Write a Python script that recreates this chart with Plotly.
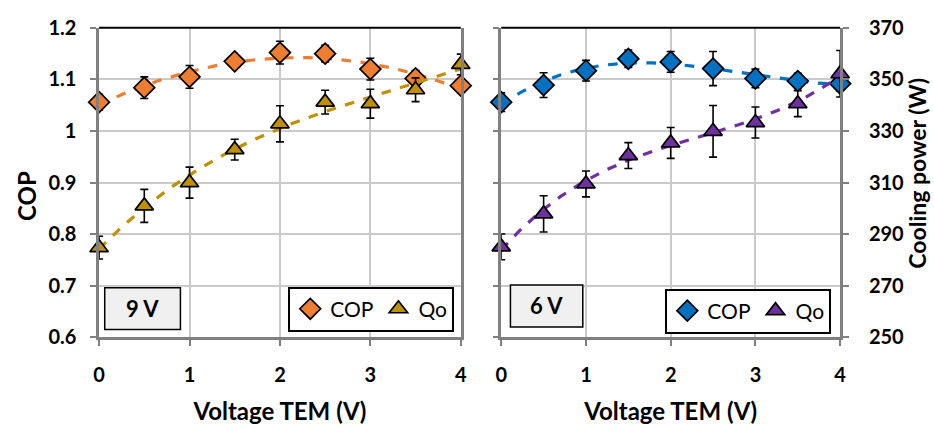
import numpy as np
import plotly.graph_objects as go

# ---------------- data ----------------
voltage = [0, 0.5, 1, 1.5, 2, 2.5, 3, 3.5, 4]

cop_9v = [1.056, 1.084, 1.105, 1.135, 1.152, 1.150, 1.120, 1.102, 1.088]
cop_9v_err = [0.015, 0.021, 0.022, 0.012, 0.022, 0.016, 0.021, 0.015, 0.006]
qo_9v = [284.8, 301.0, 310.0, 322.8, 332.8, 341.2, 340.6, 346.0, 355.8]
qo_9v_err = [4.4, 6.4, 6.0, 4.0, 7.0, 4.6, 5.6, 4.6, 4.0]

cop_6v = [1.056, 1.089, 1.117, 1.140, 1.134, 1.121, 1.102, 1.097, 1.092]
cop_6v_err = [0.018, 0.024, 0.020, 0.017, 0.020, 0.033, 0.018, 0.015, 0.015]
qo_6v = [285.1, 297.9, 309.5, 320.5, 325.4, 329.9, 333.3, 340.6, 352.2]
qo_6v_err = [5, 7, 5, 5, 6, 10, 6, 5, 9]

cop_ticks = [0.6, 0.7, 0.8, 0.9, 1.0, 1.1, 1.2]
cop_ticktext = ["0.6", "0.7", "0.8", "0.9", "1", "1.1", "1.2"]
qo_ticks = [250, 270, 290, 310, 330, 350, 370]
x_ticks = [0, 1, 2, 3, 4]

panel_labels = ["9 V", "6 V"]
legend_names = ["COP", "Qo"]
x_title = "Voltage TEM (V)"
y_left_title = "COP"
y_right_title = "Cooling power (W)"

# ---------------- styles ----------------
ORANGE = "#ED7D31"
GOLD = "#BF9000"
BLUE = "#0070C0"
PURPLE = "#7030A0"
FONT = "Lato"
W, H = 934, 433

def px_x(p):
    return p / W

def px_y(p):
    return 1 - p / H

dom_y = [px_y(343.5), px_y(15.7)]
dom_x1 = [px_x(94.3), px_x(460.7)]
dom_x2 = [px_x(501.7), px_x(845.0)]

fig = go.Figure()

def trend(x, y, deg=3):
    c = np.polyfit(x, y, deg)
    xs = np.linspace(min(x), max(x), 120)
    return xs, np.polyval(c, xs)

def add_series(x, y, err, color, symbol, xa, ya, name, legend, rank, deg=3):
    xs, ys = trend(x, y, deg)
    fig.add_trace(go.Scatter(x=xs, y=ys, mode="lines", xaxis=xa, yaxis=ya,
                             line=dict(color=color, width=3.2, dash="dash"),
                             showlegend=False, hoverinfo="skip"))
    fig.add_trace(go.Scatter(x=x, y=y, mode="markers", xaxis=xa, yaxis=ya,
                             name=name, legend=legend, legendrank=rank, cliponaxis=False,
                             marker=dict(symbol=symbol, size=16,
                                         color=color, line=dict(color="black", width=1.7)),
                             error_y=dict(type="data", array=err, visible=True,
                                          color="black", thickness=1.6, width=4)))

# left panel (9 V)
add_series(voltage, cop_9v, cop_9v_err, ORANGE, "diamond", "x", "y", legend_names[0], "legend", 1)
add_series(voltage, qo_9v, qo_9v_err, GOLD, "triangle-up", "x", "y2", legend_names[1], "legend", 2)
# right panel (6 V)
add_series(voltage, cop_6v, cop_6v_err, BLUE, "diamond", "x2", "y3", legend_names[0], "legend2", 1)
add_series(voltage, qo_6v, qo_6v_err, PURPLE, "triangle-up", "x2", "y4", legend_names[1], "legend2", 2)

tickfont = dict(family=FONT, size=20, color="black", weight="bold")
titlefont = dict(family=FONT, size=24, color="black", weight="bold")
AXIS_GRAY = "#808080"
GRID = "#CACACA"

xcommon = dict(range=[0, 4], tickvals=x_ticks, showgrid=True, gridcolor=GRID, gridwidth=2,
               showline=True, linecolor=AXIS_GRAY, linewidth=2.5, ticks="outside",
               ticklen=6, tickcolor=AXIS_GRAY, tickwidth=2, tickfont=tickfont, zeroline=False,
               ticklabelstandoff=12,
               title=dict(text=x_title, font=titlefont, standoff=18))

fig.update_layout(
    width=W, height=H, margin=dict(l=0, r=0, t=0, b=0),
    paper_bgcolor="white", plot_bgcolor="white",
    font=dict(family=FONT, color="black"),
    xaxis=dict(domain=dom_x1, anchor="y", **xcommon),
    xaxis2=dict(domain=dom_x2, anchor="y3", **xcommon),
    yaxis=dict(domain=dom_y, anchor="x", range=[0.6, 1.2], tickvals=cop_ticks, ticktext=cop_ticktext,
               showgrid=True, gridcolor=GRID, gridwidth=2, zeroline=False,
               showline=True, mirror=True, linecolor=AXIS_GRAY, linewidth=2.5,
               ticks="outside", ticklen=6, tickcolor=AXIS_GRAY, tickwidth=2, tickfont=tickfont,
               ticklabelstandoff=10),
    yaxis2=dict(overlaying="y", anchor="x", range=[250, 370], showgrid=False, showticklabels=False,
                zeroline=False, showline=False),
    yaxis3=dict(domain=dom_y, anchor="x2", range=[0.6, 1.2], tickvals=cop_ticks,
                showticklabels=False, showgrid=True, gridcolor=GRID, gridwidth=2, zeroline=False,
                showline=True, linecolor=AXIS_GRAY, linewidth=2.5,
                ticks="outside", ticklen=6, tickcolor=AXIS_GRAY, tickwidth=2),
    yaxis4=dict(overlaying="y3", anchor="x2", side="right", range=[250, 370], tickvals=qo_ticks,
                showgrid=False, zeroline=False, showline=True, linecolor=AXIS_GRAY, linewidth=2.5,
                ticks="outside", ticklen=6, tickcolor=AXIS_GRAY, tickwidth=2, tickfont=tickfont,
                ticklabelstandoff=16),
    legend=dict(orientation="h", x=px_x(370), y=px_y(313.5), xanchor="center", yanchor="middle",
                bgcolor="white", bordercolor="black", borderwidth=2, traceorder="normal",
                font=dict(family=FONT, size=21, color="black"), itemwidth=30),
    legend2=dict(orientation="h", x=px_x(752), y=px_y(315.5), xanchor="center", yanchor="middle",
                 bgcolor="white", bordercolor="black", borderwidth=2, traceorder="normal",
                 font=dict(family=FONT, size=21, color="black"), itemwidth=30),
)

# y-axis titles
fig.add_annotation(xref="paper", yref="paper", x=px_x(21), y=px_y(194), text=y_left_title,
                   textangle=-90, showarrow=False, xanchor="center", yanchor="middle",
                   font=titlefont)
fig.add_annotation(xref="paper", yref="paper", x=px_x(922), y=px_y(170), text=y_right_title,
                   textangle=-90, showarrow=False, xanchor="center", yanchor="middle",
                   font=dict(family=FONT, size=23, color="black", weight="bold"))

# top black frame lines
for xa, ya in [("x", "y"), ("x2", "y3")]:
    fig.add_shape(type="line", xref=xa + " domain", yref=ya + " domain", x0=0, x1=1, y0=1, y1=1,
                  line=dict(color="black", width=2))

# panel labels "9 V" / "6 V"
boxes = [(100, 176.7, 291, 335), (511, 584.3, 288, 332.3)]
for lab, (x0, x1, y0, y1) in zip(panel_labels, boxes):
    fig.add_shape(type="rect", xref="paper", yref="paper", x0=px_x(x0), x1=px_x(x1),
                  y0=px_y(y1), y1=px_y(y0), fillcolor="#F0F0F0", line=dict(color="black", width=1.5))
    fig.add_annotation(xref="paper", yref="paper", x=px_x((x0 + x1) / 2), y=px_y((y0 + y1) / 2),
                       text=lab, showarrow=False, xanchor="center", yanchor="middle",
                       font=dict(family=FONT, size=22, color="black", weight="bold"))

fig.write_html("out.html")
